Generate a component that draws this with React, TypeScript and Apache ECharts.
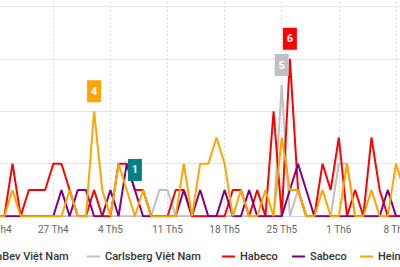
import { useEffect, useRef } from "react";
import * as echarts from "echarts";

// Daily mention counts per brewer, 20 Apr – 9 Jun
const days = [
  "20 Th4", "21 Th4", "22 Th4", "23 Th4", "24 Th4", "25 Th4", "26 Th4", "27 Th4", "28 Th4", "29 Th4", "30 Th4",
  "1 Th5", "2 Th5", "3 Th5", "4 Th5", "5 Th5", "6 Th5", "7 Th5", "8 Th5", "9 Th5", "10 Th5",
  "11 Th5", "12 Th5", "13 Th5", "14 Th5", "15 Th5", "16 Th5", "17 Th5", "18 Th5", "19 Th5", "20 Th5",
  "21 Th5", "22 Th5", "23 Th5", "24 Th5", "25 Th5", "26 Th5", "27 Th5", "28 Th5", "29 Th5", "30 Th5",
  "31 Th5", "1 Th6", "2 Th6", "3 Th6", "4 Th6", "5 Th6", "6 Th6", "7 Th6", "8 Th6", "9 Th6",
];

const abInBev = [
  null, null, null, null, null, null, null, null, null, null, null,
  null, null, null, null, null, null, 1, null, null, null,
  null, null, null, null, null, null, null, null, null, null,
  null, null, null, null, null, null, null, null, null, null,
  null, null, null, null, null, null, null, null, null, null,
];

const carlsberg = [
  0, 0, 0, 0, 0, 0, 0, 0, 0, 0, 0,
  0, 0, 0, 0, 0, 0, 0, 0, 0, 1,
  1, 0, 0, 0, 0, 0, 0, 0, 0, 0,
  0, 0, 0, 0, 5, 0, 1, 0, 0, 0,
  0, 2, 2, 0, 0, 0, 0, 0, 0, 0,
];

const habeco = [
  0, 0, 2, 0, 1, 1, 1, 2, 2, 1, 0,
  0, 1, 0, 0, 2, 2, 1, 1, 0, 0,
  0, 1, 1, 0, 0, 0, 0, 0, 1, 1,
  0, 1, 0, 4, 0, 6, 1, 0, 0, 2,
  1, 3, 0, 1, 0, 3, 1, 0, 0, 0,
];

const sabeco = [
  0, 0, 0, 0, 0, 0, 0, 0, 1, 0, 1,
  1, 0, 0, 1, 0, 2, 1, 0, 0, 0,
  0, 0, 1, 0, 1, 0, 0, 1, 0, 0,
  1, 0, 0, 0, 0, 1, 2, 1, 0, 0,
  0, 0, 0, 0, 0, 0, 0, 1, 0, 0,
];

const heineken = [
  0, 0, 1, 0, 0, 0, 0, 0, 0, 1, 0,
  0, 4, 1, 0, 2, 1, 0, 1, 0, 0,
  0, 0, 2, 0, 2, 2, 3, 2, 0, 1,
  0, 0, 1, 0, 3, 1, 1, 0, 0, 1,
  0, 0, 2, 0, 0, 1, 0, 0, 2, 1,
];

const brands = ["AB InBev Việt Nam", "Carlsberg Việt Nam", "Habeco", "Sabeco", "Heineken Việt Nam"];
const colors = ["#008080", "#c0c0c0", "#ff0000", "#800080", "#ffa500"];

const FONT = "Roboto, 'Liberation Sans', sans-serif";

// left edge of each legend entry inside the chart box
const legendLeft = [13, 142, 277, 347, 415];

function brandSeries(name: string, color: string, data: (number | null)[], flag: boolean) {
  return {
    name,
    type: "line",
    data,
    color,
    symbol: "none",
    showSymbol: false,
    lineStyle: { width: 2, color },
    emphasis: { disabled: true },
    markPoint: flag
      ? {
          data: [{ type: "max" }],
          symbol: "rect",
          symbolSize: [14, 22],
          symbolOffset: [0, -20],
          itemStyle: { color },
          label: {
            show: true,
            color: "#ffffff",
            fontWeight: "bold",
            fontSize: 11,
            fontFamily: FONT,
          },
        }
      : undefined,
  };
}

export default function App() {
  const ref = useRef<HTMLDivElement>(null);

  useEffect(() => {
    if (!ref.current) return;
    document.body.style.overflow = "hidden";
    const chart = echarts.init(ref.current, null, { renderer: "svg" });
    chart.setOption({
      animation: false,
      backgroundColor: "#ffffff",
      grid: { left: 56.2, right: 135.9, top: 3.8, bottom: 50.8 },
      legend: brands.map((name, i) => ({
        left: legendLeft[i],
        top: 296,
        icon: "rect",
        itemWidth: 13,
        itemHeight: 2,
        textStyle: { color: "#333333", fontSize: 11, fontWeight: 500, fontFamily: FONT },
        data: [name],
      })),
      xAxis: {
        type: "category",
        data: days,
        boundaryGap: false,
        axisLine: { lineStyle: { color: "#ccd6eb", width: 1 } },
        axisTick: { show: false, interval: 6 },
        axisLabel: { interval: 6, color: "#666666", fontSize: 10, fontFamily: FONT, margin: 8 },
        splitLine: { show: true, interval: 6, lineStyle: { color: "#d9d9d9", width: 1, type: [2, 2] } },
      },
      yAxis: {
        type: "value",
        min: 0,
        max: 10,
        interval: 2,
        axisLine: { show: false },
        axisTick: { show: false },
        axisLabel: { show: false },
        splitLine: { lineStyle: { color: "#e6e6e6", width: 1 } },
      },
      series: [
        brandSeries(brands[0], colors[0], abInBev, true),
        brandSeries(brands[1], colors[1], carlsberg, true),
        brandSeries(brands[2], colors[2], habeco, true),
        brandSeries(brands[3], colors[3], sabeco, false),
        brandSeries(brands[4], colors[4], heineken, true),
      ],
    });
    return () => chart.dispose();
  }, []);

  return (
    <div
      ref={ref}
      style={{ position: "fixed", left: -60, top: -50, width: 600, height: 317 }}
    />
  );
}
